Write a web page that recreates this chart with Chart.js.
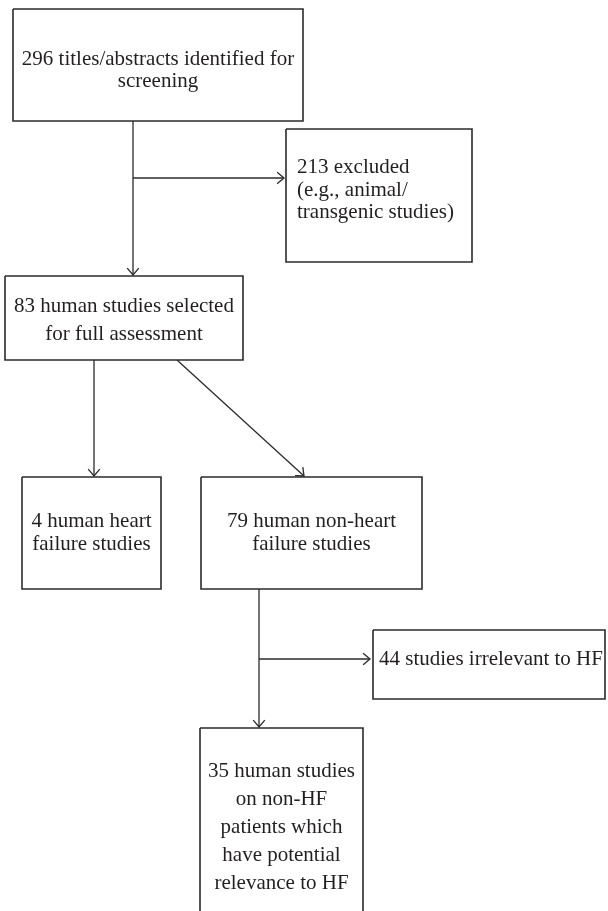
<!DOCTYPE html>
<html><head><meta charset="utf-8">
<script src="https://cdn.jsdelivr.net/npm/chart.js@4/dist/chart.umd.min.js"></script>
<style>html,body{margin:0;padding:0;background:#fff;}#wrap{width:608px;height:911px;}</style>
</head><body><div id="wrap"><canvas id="c" width="608" height="911"></canvas></div>
<script>
// ---- data: counts per stage of the screening flow ----
const stageCounts = [296, 213, 83, 4, 79, 44, 35];
const stageLabels = [
  [stageCounts[0] + " titles/abstracts identified for", "screening"],
  [stageCounts[1] + " excluded", "(e.g., animal/", "transgenic studies)"],
  [stageCounts[2] + " human studies selected", "for full assessment"],
  [stageCounts[3] + " human heart", "failure studies"],
  [stageCounts[4] + " human non-heart", "failure studies"],
  [stageCounts[5] + " studies irrelevant to HF"],
  [stageCounts[6] + " human studies", "on non-HF", "patients which", "have potential", "relevance to HF"]
];
// flow links: [from stage, to stage]
const flowLinks = [[0,2],[0,1],[2,3],[2,4],[4,6],[4,5]];

// ---- layout (positions / sizes, kept separate from data) ----
const boxLeft   = [13, 286, 5, 22, 201, 373, 200];
const boxRight  = [303, 472, 243, 161, 422, 605, 363];
const boxTop    = [9, 129, 276, 477, 477, 630, 728];
const boxBottom = [121, 262, 360, 589, 589, 699, 920];
const textAlignments = ["center","left","center","center","center","left","center"];
const textLeft  = [0, 297, 0, 0, 0, 379, 0];
const firstBaseline = [65, 173, 312, 527, 527, 665, 777];
const lineGap   = [22, 22.5, 28, 23, 23, 0, 28];
// connector geometry for each flow link: polyline points
const linkPaths = [
  [[133,121],[133,275]],
  [[133,178],[284,178]],
  [[94,360],[94,476]],
  [[177,360],[304,476]],
  [[259,589],[259,727]],
  [[259,659],[370,659]]
];

const datasets = [];
for (let i = 0; i < stageLabels.length; i++) {
  datasets.push({
    label: "box" + i,
    data: [
      {x: boxLeft[i], y: boxTop[i]}, {x: boxRight[i], y: boxTop[i]},
      {x: boxRight[i], y: boxBottom[i]}, {x: boxLeft[i], y: boxBottom[i]},
      {x: boxLeft[i], y: boxTop[i]}
    ],
    showLine: true, borderColor: "#2b2b2b", borderWidth: 1.6,
    pointRadius: 0, tension: 0, fill: false, clip: false
  });
}
flowLinks.forEach((lk, j) => {
  datasets.push({
    label: "link" + j,
    data: linkPaths[j].map(p => ({x: p[0], y: p[1]})),
    showLine: true, borderColor: "#2b2b2b", borderWidth: 1.3,
    pointRadius: 0, tension: 0, fill: false, clip: false
  });
});

const flowPlugin = {
  id: "flow",
  afterDatasetsDraw(chart) {
    const ctx = chart.ctx, xs = chart.scales.x, ys = chart.scales.y;
    ctx.save();
    // arrowheads
    ctx.strokeStyle = "#2b2b2b"; ctx.lineWidth = 1.3;
    linkPaths.forEach(path => {
      const a = path[path.length - 2], b = path[path.length - 1];
      const x1 = xs.getPixelForValue(a[0]), y1 = ys.getPixelForValue(a[1]);
      const x2 = xs.getPixelForValue(b[0]), y2 = ys.getPixelForValue(b[1]);
      const ang = Math.atan2(y2 - y1, x2 - x1);
      const len = 9, spread = 0.7;
      ctx.beginPath();
      ctx.moveTo(x2 - len * Math.cos(ang - spread), y2 - len * Math.sin(ang - spread));
      ctx.lineTo(x2, y2);
      ctx.lineTo(x2 - len * Math.cos(ang + spread), y2 - len * Math.sin(ang + spread));
      ctx.stroke();
    });
    // labels
    ctx.fillStyle = "#231f20";
    ctx.font = "21px 'Liberation Serif', 'DejaVu Serif', serif";
    ctx.textBaseline = "alphabetic";
    stageLabels.forEach((lines, i) => {
      lines.forEach((t, k) => {
        const yv = firstBaseline[i] + k * lineGap[i];
        let xv;
        if (textAlignments[i] === "center") { ctx.textAlign = "center"; xv = (boxLeft[i] + boxRight[i]) / 2; }
        else { ctx.textAlign = "left"; xv = textLeft[i]; }
        ctx.fillText(t, xs.getPixelForValue(xv), ys.getPixelForValue(yv));
      });
    });
    ctx.restore();
  }
};

new Chart(document.getElementById("c"), {
  type: "scatter",
  data: { datasets },
  options: {
    responsive: false, animation: false, devicePixelRatio: 1,
    layout: { padding: 0 },
    plugins: { legend: { display: false }, tooltip: { enabled: false } },
    scales: {
      x: { type: "linear", min: 0, max: 608, display: false },
      y: { type: "linear", min: 0, max: 911, reverse: true, display: false }
    }
  },
  plugins: [flowPlugin]
});
</script></body></html>
